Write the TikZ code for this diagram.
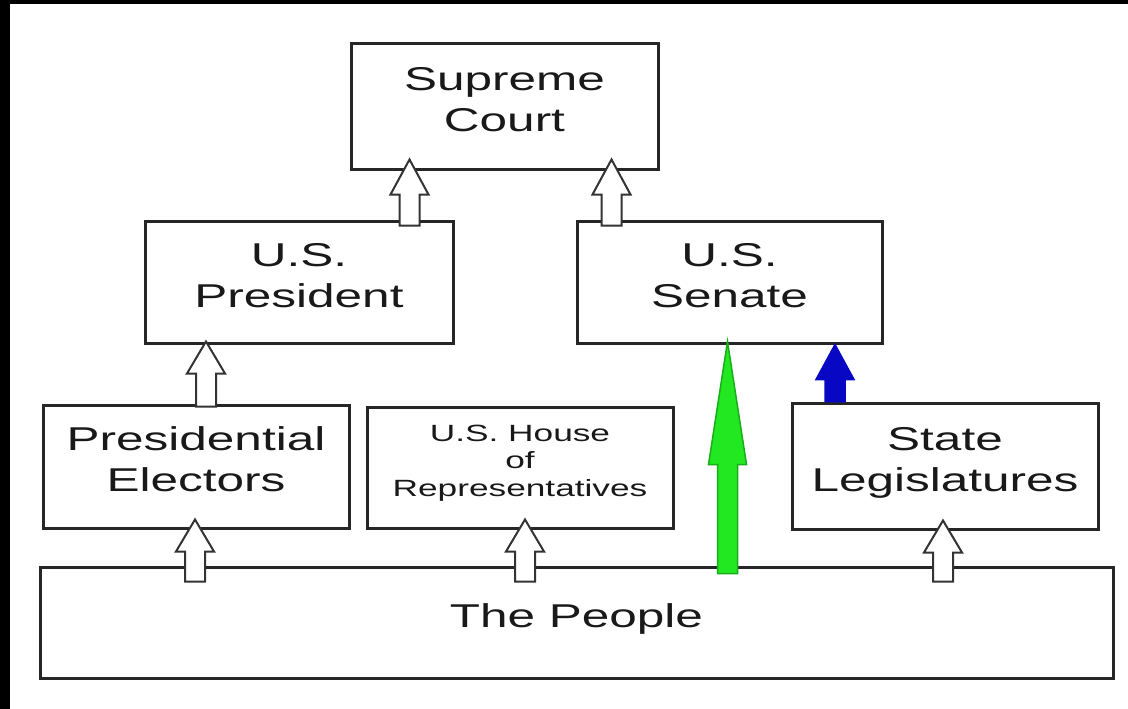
\documentclass[tikz,border=0pt]{standalone}
\usepackage{fontspec}
\usetikzlibrary{calc}
\newfontfamily\labelfont[FakeStretch=1.5]{Liberation Sans}
\definecolor{votegreen}{RGB}{34,232,34}
\definecolor{stateblue}{RGB}{8,8,196}
% block arrow from a start point up to a tip, #4 = head length
\newcommand{\blockarrow}[4][hollow]{%
  \draw[#1] let \p1=(#2), \p2=(#3) in
    (\x1-10pt,\y1) -- (\x1-10pt,\y2-#4pt) -- (\x1-19pt,\y2-#4pt) -- (\x1,\y2)
    -- (\x1+19pt,\y2-#4pt) -- (\x1+10pt,\y2-#4pt) -- (\x1+10pt,\y1) -- cycle;}

\begin{document}
\begin{tikzpicture}[x=1pt,y=-1pt,
  box/.style={draw=black!85, line width=3pt, fill=white, align=center, inner sep=0pt,
    text depth=14pt, text=black!90, font=\labelfont\fontsize{33}{41}\selectfont},
  hollow/.style={draw=black!80, line width=2pt, fill=white},
  greenarrow/.style={draw=votegreen!75!black, line width=1.5pt, fill=votegreen},
  bluearrow/.style={draw=stateblue, line width=1.5pt, fill=stateblue}]
\useasboundingbox (0,0) rectangle (1128,709);
\fill[white] (0,0) rectangle (1128,709);
\fill[black] (0,0) rectangle (1128,4);
\fill[black] (0,0) rectangle (10,709);

% offices
\node[box, minimum width=307pt, minimum height=125pt] (court) at (504.5,106.5) {Supreme\\Court};
\node[box, minimum width=308pt, minimum height=122pt] (pres) at (299,282) {U.S.\\President};
\node[box, minimum width=305pt, minimum height=122pt] (senate) at (729.5,282) {U.S.\\Senate};
\node[box, minimum width=306pt, minimum height=123pt] (elect) at (196,466.5) {Presidential\\Electors};
\node[box, minimum width=306pt, minimum height=121pt,
  font=\labelfont\fontsize{23.5}{27.5}\selectfont] (house) at (520,467.5) {U.S. House\\of\\Representatives};
\node[box, minimum width=306pt, minimum height=126pt] (state) at (945,466) {State\\Legislatures};
\node[box, minimum width=1073pt, minimum height=111pt] (people) at (576.5,622.5) {The People};

% who chooses whom
\blockarrow{$(elect.north)+(10,3)$}{$(pres.south -| elect.north)+(10,-3)$}{32}
\blockarrow{$(pres.north -| court.south)+(-95,6)$}{$(court.south)+(-95,-11)$}{35}
\blockarrow{$(senate.north -| court.south)+(107,6)$}{$(court.south)+(107,-11)$}{35}
\blockarrow{$(people.north -| elect.south)+(-1,16)$}{$(elect.south)+(-1,-10)$}{32}
\blockarrow{$(people.north -| house.south)+(5,16)$}{$(house.south)+(5,-10)$}{32}
\blockarrow{$(people.north -| state.south)+(-2,16)$}{$(state.south)+(-2,-10)$}{32}
\blockarrow[greenarrow]{$(people.north -| senate.south)+(-2,8)$}{$(senate.south)+(-2,-3)$}{123}
\blockarrow[bluearrow]{$(state.north)+(-110,0)$}{$(senate.south -| state.north)+(-110,0)$}{35}
\end{tikzpicture}
\end{document}
